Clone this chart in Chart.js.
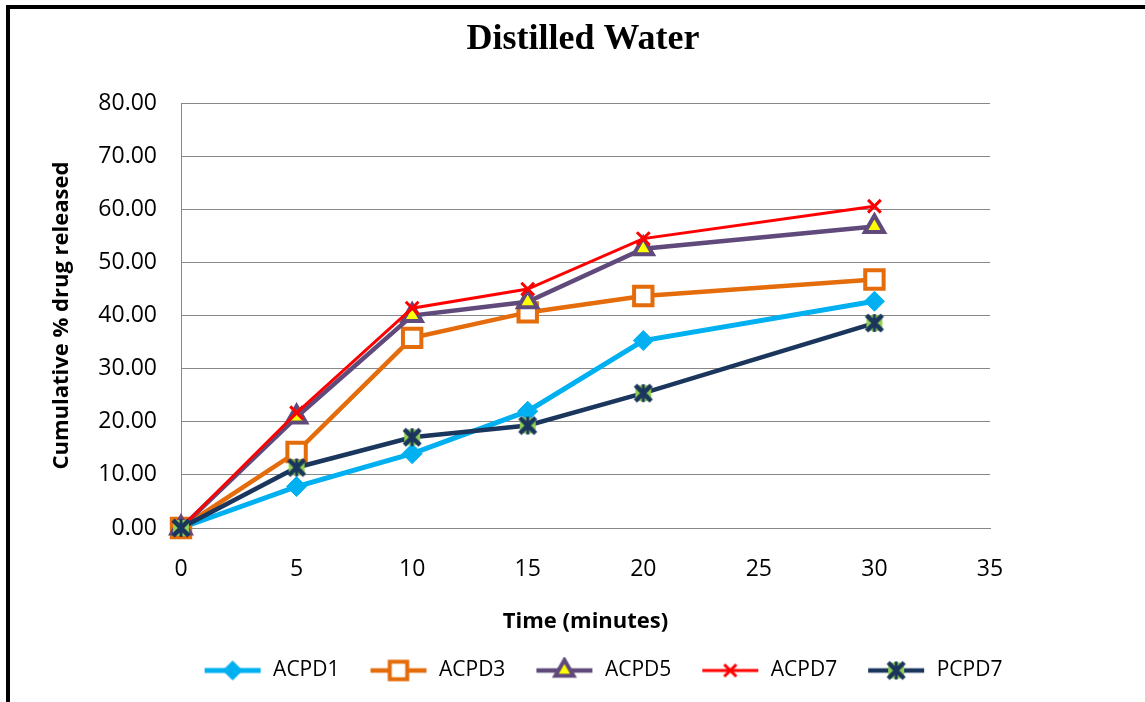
<!DOCTYPE html>
<html>
<head>
<meta charset="utf-8">
<script src="https://cdn.jsdelivr.net/npm/chart.js@4.4.1/dist/chart.umd.min.js"></script>
<style>
  html, body { margin: 0; padding: 0; background: #fff; overflow: hidden; }
  #frame { position: absolute; left: 6px; top: 5px; width: 1300px; height: 900px;
           border-top: 4px solid #000; border-left: 4px solid #000; }
  #wrap { position: absolute; left: 0; top: 0; width: 1145px; height: 702px; }
</style>
</head>
<body>
<div id="frame"></div>
<div id="wrap"><canvas id="chart"></canvas></div>
<script>
// data
const times = [0, 5, 10, 15, 20, 30];
const seriesNames = ['ACPD1', 'ACPD3', 'ACPD5', 'ACPD7', 'PCPD7'];
const acpd1 = [0, 7.8, 14.0, 22.0, 35.3, 42.7];
const acpd3 = [0, 14.3, 35.8, 40.6, 43.7, 46.8];
const acpd5 = [0, 20.9, 40.0, 42.6, 52.6, 56.8];
const acpd7 = [0, 21.7, 41.4, 45.0, 54.5, 60.6];
const pcpd7 = [0, 11.4, 17.1, 19.3, 25.4, 38.6];

const navy = '#1B365D';
const green = '#92D050';

// Excel "star" marker: X with a vertical bar, green fill
function starMarker(s) {
  const c = document.createElement('canvas');
  c.width = c.height = s;
  const g = c.getContext('2d');
  drawStar(g, s / 2, s / 2, s * 0.36);
  return c;
}
function drawStar(g, x, y, r) {
  g.fillStyle = green;
  g.fillRect(x - r, y - r, 2 * r, 2 * r);
  g.strokeStyle = navy;
  g.lineWidth = 4.5;
  g.beginPath();
  g.moveTo(x - r, y - r); g.lineTo(x + r, y + r);
  g.moveTo(x + r, y - r); g.lineTo(x - r, y + r);
  g.stroke();
  g.lineWidth = 3;
  g.beginPath();
  g.moveTo(x, y - r - 1); g.lineTo(x, y + r + 1);
  g.stroke();
}

const styles = [
  { color: '#00B0F0', width: 5, point: 'rectRot', radius: 10, bg: '#00B0F0', bw: 1 },
  { color: '#E46C0A', width: 4.5, point: 'rect', radius: 13, bg: '#FFFFFF', bw: 4 },
  { color: '#604A7B', width: 4.5, point: 'triangle', radius: 11, bg: '#FFFF00', bw: 4 },
  { color: '#FF0000', width: 3, point: 'crossRot', radius: 9, bg: '#FF0000', bw: 3 },
  { color: navy, width: 4.5, point: starMarker(22), radius: 11, bg: green, bw: 1 }
];
const values = [acpd1, acpd3, acpd5, acpd7, pcpd7];

// legend icon: line with marker, drawn into the right part of a wider canvas
const iconW = 79, iconH = 28;
function legendIcon(i) {
  const st = styles[i];
  const c = document.createElement('canvas');
  c.width = iconW; c.height = iconH;
  const g = c.getContext('2d');
  const x0 = iconW - 58, x1 = iconW - 2, cy = iconH / 2, cx = (x0 + x1) / 2;
  g.strokeStyle = st.color;
  g.lineWidth = st.width;
  g.beginPath(); g.moveTo(x0, cy); g.lineTo(x1, cy); g.stroke();
  if (i === 4) {
    drawStar(g, cx, cy, 8);
  } else {
    g.fillStyle = st.bg;
    g.strokeStyle = st.color;
    g.lineWidth = st.bw;
    Chart.helpers.drawPoint(g, { pointStyle: st.point, radius: st.radius * 0.95, rotation: 0, borderWidth: st.bw }, cx, cy);
  }
  return c;
}

const datasets = seriesNames.map((name, i) => ({
  label: name,
  data: times.map((t, j) => ({ x: t, y: values[i][j] })),
  borderColor: styles[i].color,
  backgroundColor: styles[i].bg,
  borderWidth: styles[i].width,
  pointStyle: styles[i].point,
  pointRadius: styles[i].radius,
  pointBorderWidth: styles[i].bw,
  pointBorderColor: styles[i].color,
  pointBackgroundColor: styles[i].bg,
  tension: 0,
  clip: false,
  order: 5 - i
}));

const tickFont = { family: 'Open Sans', size: 23 };
const titleFont = { family: 'Open Sans', size: 22, weight: 'bold' };

// legend sits a little right of centre in the original
const legendShift = {
  id: 'legendShift',
  afterLayout(chart) {
    chart.legend.left += 10;
    chart.legend.right += 10;
  }
};

new Chart(document.getElementById('chart'), {
  type: 'line',
  data: { datasets: datasets },
  plugins: [legendShift],
  options: {
    responsive: true,
    maintainAspectRatio: false,
    animation: false,
    events: [],
    layout: { padding: { left: 21, right: 0, top: 0, bottom: 11 } },
    plugins: {
      title: {
        display: true,
        text: 'Distilled Water',
        color: '#000',
        font: { family: 'Liberation Serif', size: 36, weight: 'bold' },
        padding: { top: 18, bottom: 42 }
      },
      legend: {
        position: 'bottom',
        labels: {
          usePointStyle: true,
          pointStyleWidth: iconW,
          padding: 10,
          color: '#000',
          font: { family: 'Open Sans', size: 21 },
          sort: (a, b) => a.datasetIndex - b.datasetIndex,
          generateLabels: (chart) => {
            const items = Chart.defaults.plugins.legend.labels.generateLabels(chart);
            items.forEach(it => { it.pointStyle = legendIcon(it.datasetIndex); });
            return items;
          }
        }
      },
      tooltip: { enabled: false }
    },
    scales: {
      x: {
        type: 'linear',
        min: 0, max: 35,
        grid: { display: false, drawTicks: false },
        border: { display: true, color: '#888', width: 1 },
        ticks: { stepSize: 5, padding: 28, color: '#000', font: tickFont },
        title: {
          display: true,
          text: 'Time (minutes)',
          color: '#000',
          font: titleFont,
          padding: { top: 20, bottom: 15 }
        },
        afterFit: (s) => { s.height = 122; }
      },
      y: {
        min: 0, max: 80,
        grid: { color: '#888', lineWidth: 1, drawTicks: false },
        border: { display: true, color: '#888', width: 1 },
        ticks: { stepSize: 10, padding: 24, color: '#000', font: tickFont,
                 callback: (v) => v.toFixed(2) },
        title: {
          display: true,
          text: 'Cumulative % drug released',
          color: '#000',
          font: titleFont,
          padding: { top: 28, bottom: 0 }
        },
        afterFit: (s) => { s.width = 160; }
      },
      pad: {
        position: 'right',
        grid: { display: false, drawTicks: false },
        border: { display: false },
        ticks: { display: false },
        afterFit: (s) => { s.width = 155; }
      }
    }
  }
});
</script>
</body>
</html>
